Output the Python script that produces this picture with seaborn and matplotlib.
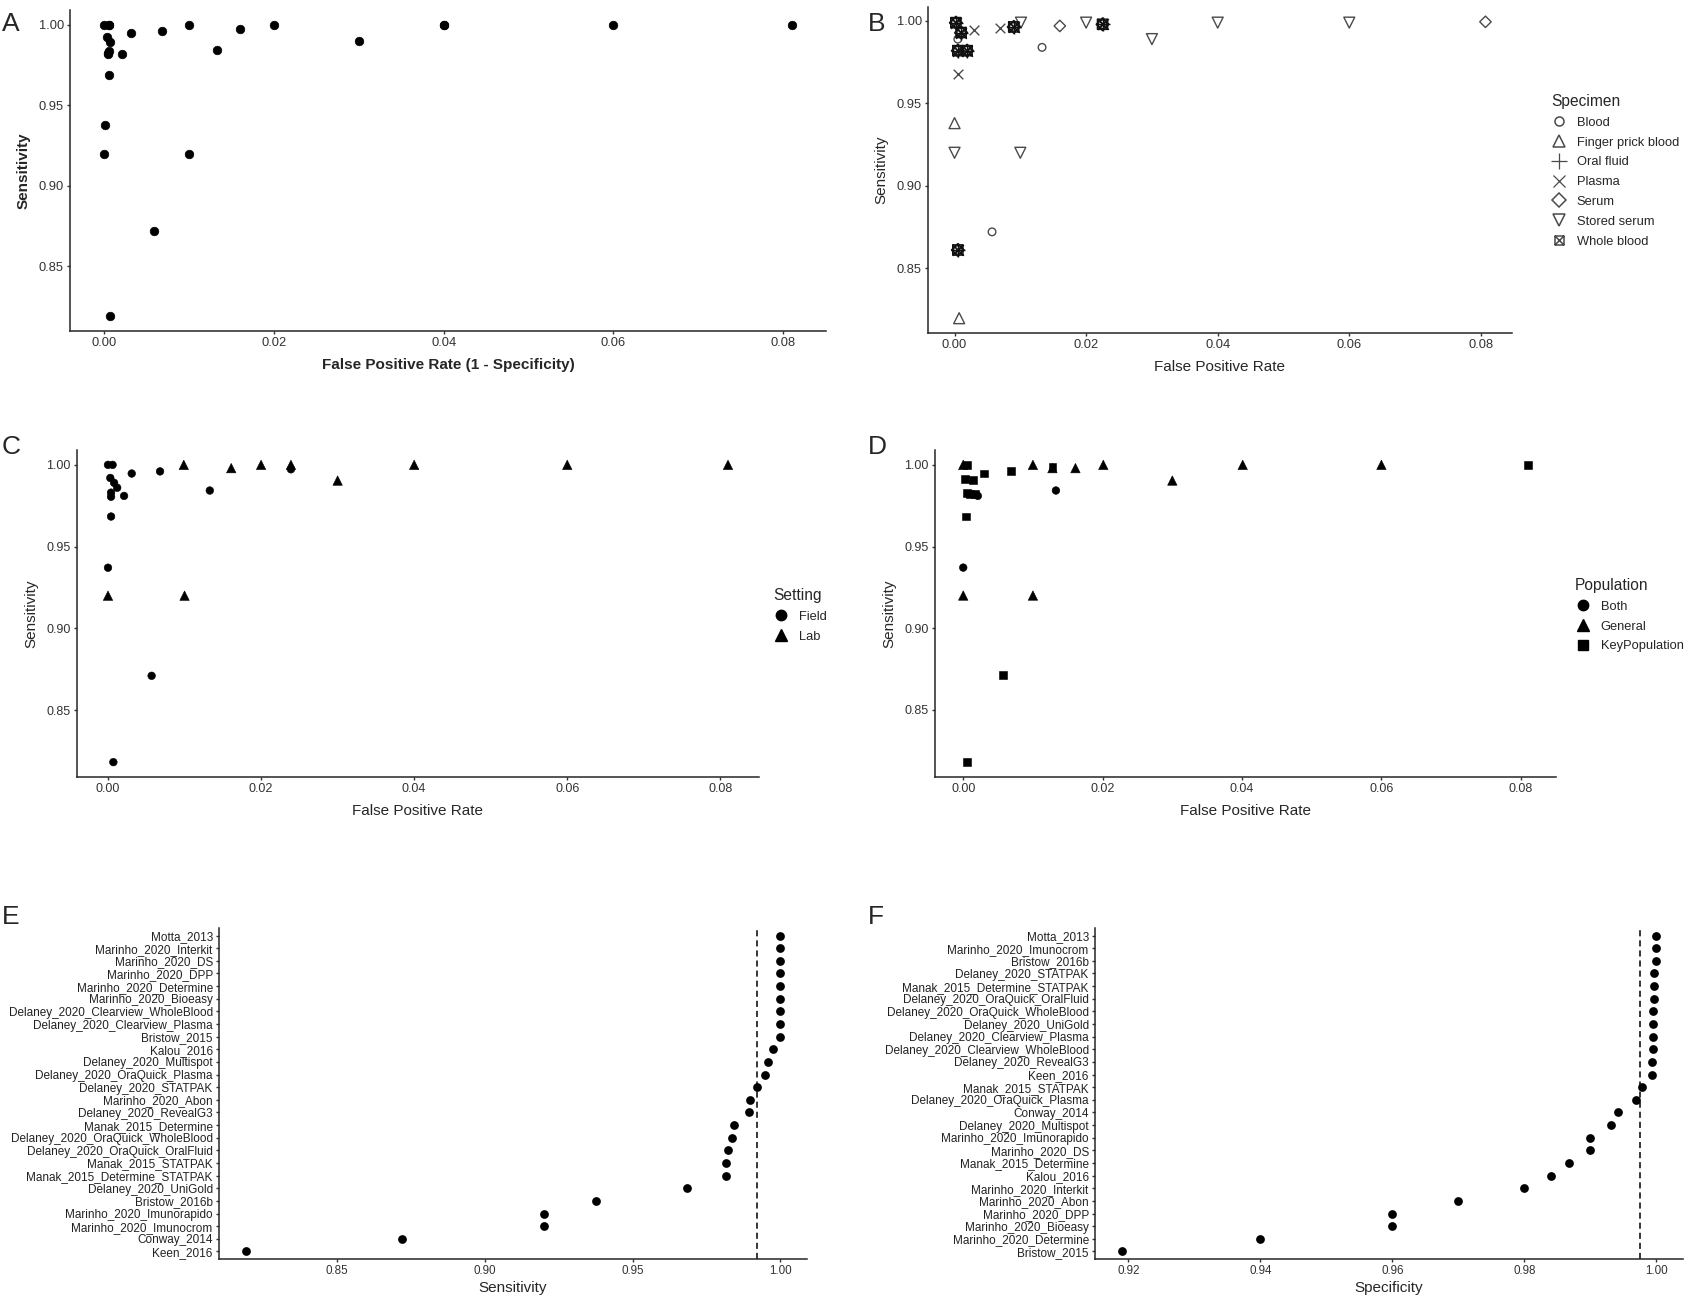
import numpy as np
import pandas as pd
import matplotlib
matplotlib.use("Agg")
import matplotlib.pyplot as plt
from matplotlib.lines import Line2D
from matplotlib.path import Path
from matplotlib.markers import MarkerStyle
import seaborn as sns

# ---------------- DATA ----------------
# Panel E: sensitivity by study (top -> bottom)
sens_studies = ["Motta_2013", "Marinho_2020_Interkit", "Marinho_2020_DS", "Marinho_2020_DPP",
                "Marinho_2020_Determine", "Marinho_2020_Bioeasy", "Delaney_2020_Clearview_WholeBlood",
                "Delaney_2020_Clearview_Plasma", "Bristow_2015", "Kalou_2016", "Delaney_2020_Multispot",
                "Delaney_2020_OraQuick_Plasma", "Delaney_2020_STATPAK", "Marinho_2020_Abon",
                "Delaney_2020_RevealG3", "Manak_2015_Determine", "Delaney_2020_OraQuick_WholeBlood",
                "Delaney_2020_OraQuick_OralFluid", "Manak_2015_STATPAK", "Manak_2015_Determine_STATPAK",
                "Delaney_2020_UniGold", "Bristow_2016b", "Marinho_2020_Imunorapido",
                "Marinho_2020_Imunocrom", "Conway_2014", "Keen_2016"]
sens_values = [1.0, 1.0, 1.0, 1.0, 1.0, 1.0, 1.0, 1.0, 1.0, 0.9975, 0.996, 0.9948, 0.992, 0.9899,
               0.9893, 0.9844, 0.9838, 0.9824, 0.9815, 0.9815, 0.9685, 0.9375, 0.920, 0.920,
               0.872, 0.819]
sens_pooled = 0.992

# Panel F: specificity by study (top -> bottom)
spec_studies = ["Motta_2013", "Marinho_2020_Imunocrom", "Bristow_2016b", "Delaney_2020_STATPAK",
                "Manak_2015_Determine_STATPAK", "Delaney_2020_OraQuick_OralFluid",
                "Delaney_2020_OraQuick_WholeBlood", "Delaney_2020_UniGold",
                "Delaney_2020_Clearview_Plasma", "Delaney_2020_Clearview_WholeBlood",
                "Delaney_2020_RevealG3", "Keen_2016", "Manak_2015_STATPAK",
                "Delaney_2020_OraQuick_Plasma", "Conway_2014", "Delaney_2020_Multispot",
                "Marinho_2020_Imunorapido", "Marinho_2020_DS", "Manak_2015_Determine", "Kalou_2016",
                "Marinho_2020_Interkit", "Marinho_2020_Abon", "Marinho_2020_DPP",
                "Marinho_2020_Bioeasy", "Marinho_2020_Determine", "Bristow_2015"]
spec_values = [1.0, 1.0, 0.9999, 0.9997, 0.9996, 0.9996, 0.9995, 0.9995, 0.9995, 0.9995, 0.9993,
               0.9993, 0.9979, 0.9969, 0.9942, 0.9932, 0.990, 0.990, 0.9867, 0.984, 0.980, 0.970,
               0.960, 0.960, 0.940, 0.919]
spec_pooled = 0.9975

# Panel B: specimen type
b_fpr = [0.0133, 0.0057, 0.0005,
         0.0, 0.0007,
         0.0030, 0.0069, 0.0005,
         0.0160, 0.0807,
         0.0101, 0.0200, 0.0300, 0.0400, 0.0600, 0.0, 0.0100]
b_sens = [0.984, 0.872, 0.989,
          0.938, 0.8196,
          0.9943, 0.996, 0.968,
          0.997, 0.9995,
          0.999, 0.999, 0.989, 0.999, 0.999, 0.920, 0.920]
b_specimen = ["Blood", "Blood", "Blood",
              "Finger prick blood", "Finger prick blood",
              "Plasma", "Plasma", "Plasma",
              "Serum", "Serum",
              "Stored serum", "Stored serum", "Stored serum", "Stored serum", "Stored serum",
              "Stored serum", "Stored serum"]
# positions where several specimen markers overlap
b_stack_fpr = [0.0002, 0.0010, 0.0005, 0.0019, 0.0090, 0.0225, 0.0005]
b_stack_sens = [0.999, 0.993, 0.982, 0.982, 0.9964, 0.998, 0.861]
b_stack_specimens = ["Whole blood", "Serum", "Blood", "Plasma", "Oral fluid"]
specimen_levels = ["Blood", "Finger prick blood", "Oral fluid", "Plasma", "Serum",
                   "Stored serum", "Whole blood"]

# Panel C: setting
c_fpr = [0.0, 0.0006, 0.0003, 0.0008, 0.0012, 0.0004, 0.0004, 0.0021, 0.0031, 0.0068, 0.0133,
         0.0239, 0.0004, 0.0, 0.0057, 0.0007,
         0.0099, 0.0161, 0.0200, 0.0239, 0.0300, 0.0400, 0.0600, 0.0810, 0.0, 0.0100]
c_sens = [1.0, 1.0, 0.992, 0.989, 0.986, 0.983, 0.9805, 0.981, 0.9947, 0.996, 0.9843,
          0.9973, 0.9684, 0.9371, 0.871, 0.8182,
          1.0, 0.998, 1.0, 1.0, 0.9904, 1.0, 1.0, 1.0, 0.920, 0.920]
c_setting = ["Field"] * 16 + ["Lab"] * 10

# Panel D: population
d_fpr = [0.0, 0.0133, 0.0021,
         0.0, 0.0100, 0.0161, 0.0201, 0.0300, 0.0401, 0.0600, 0.0, 0.0100, 0.0128,
         0.0005, 0.0002, 0.0014, 0.0005, 0.0010, 0.0017, 0.0030, 0.0068, 0.0128, 0.0004,
         0.0057, 0.0006, 0.0810]
d_sens = [0.9371, 0.9843, 0.981,
          1.0, 1.0, 0.998, 1.0, 0.9904, 1.0, 1.0, 0.920, 0.920, 0.998,
          1.0, 0.9916, 0.9906, 0.983, 0.982, 0.982, 0.9947, 0.996, 0.9987, 0.9684,
          0.8712, 0.818, 1.0]
d_population = ["Both"] * 3 + ["General"] * 10 + ["KeyPopulation"] * 13

# ---------------- STYLE ----------------
sns.set_theme(style="ticks")
plt.rcParams["font.family"] = ["Liberation Sans", "DejaVu Sans"]
plt.rcParams["axes.linewidth"] = 1.1
plt.rcParams["xtick.major.width"] = 1.0
plt.rcParams["ytick.major.width"] = 1.0
plt.rcParams["xtick.major.size"] = 2.5
plt.rcParams["ytick.major.size"] = 2.5
plt.rcParams["xtick.color"] = "#333333"
plt.rcParams["ytick.color"] = "#333333"
plt.rcParams["xtick.labelcolor"] = "#333333"
plt.rcParams["ytick.labelcolor"] = "#333333"

W, H = 1688, 1296
fig = plt.figure(figsize=(W / 100, H / 100), dpi=100)


def rect(l, t, r, b):
    return [l / W, 1 - b / H, (r - l) / W, (b - t) / H]


def expand(vals, f=0.05):
    lo, hi = min(vals), max(vals)
    r = hi - lo
    return lo - f * r, hi + f * r


def style_ax(ax, tick_fs):
    sns.despine(ax=ax)
    ax.tick_params(labelsize=tick_fs, pad=2)
    ax.grid(False)


def fmt2(ax, axis="both"):
    f = matplotlib.ticker.FormatStrFormatter("%.2f")
    if axis in ("both", "x"):
        ax.xaxis.set_major_formatter(f)
    if axis in ("both", "y"):
        ax.yaxis.set_major_formatter(f)


def letter(px, py, s):
    fig.text(px / W, 1 - py / H, s, fontsize=19, ha="left", va="center")


def legend_at(ax, handles, labels, title, px, py):
    return ax.legend(handles, labels, title=title, loc="upper left",
                     bbox_to_anchor=(px / W, 1 - py / H), bbox_transform=fig.transFigure,
                     frameon=False, fontsize=9.3, title_fontsize=11.2, borderpad=0,
                     borderaxespad=0, labelspacing=0.6, handlelength=1.2, handletextpad=0.8,
                     alignment="left")


xt = [0.0, 0.02, 0.04, 0.06, 0.08]
yt = [0.85, 0.90, 0.95, 1.00]

# ---------------- PANEL A ----------------
spec_map = dict(zip(spec_studies, spec_values))
dfA = pd.DataFrame({"study": sens_studies, "sens": sens_values})
dfA["fpr"] = [1 - spec_map[s] for s in dfA["study"]]
axA = fig.add_axes(rect(70, 10, 826, 331))
sns.scatterplot(data=dfA, x="fpr", y="sens", color="black", edgecolor="black", s=38, ax=axA,
                linewidth=0.5)
axA.set_xlim(*expand(dfA["fpr"]))
axA.set_ylim(*expand(dfA["sens"]))
axA.set_xticks(xt)
axA.set_yticks(yt)
fmt2(axA)
style_ax(axA, 9.3)
axA.set_xlabel("False Positive Rate (1 - Specificity)", fontsize=11, fontweight="bold", labelpad=6)
axA.set_ylabel("Sensitivity", fontsize=11, fontweight="bold", labelpad=6)
letter(2, 24, "A")

# ---------------- PANEL B ----------------
rowsB = pd.DataFrame({"fpr": b_fpr, "sens": b_sens, "specimen": b_specimen})
stack = pd.DataFrame([(f, s, sp) for f, s in zip(b_stack_fpr, b_stack_sens)
                      for sp in b_stack_specimens], columns=["fpr", "sens", "specimen"])
dfB = pd.concat([rowsB, stack], ignore_index=True)

wb_path = Path([(-1, -1), (1, -1), (1, 1), (-1, 1), (-1, -1), (-1, -1), (1, 1), (-1, 1), (1, -1)],
               [Path.MOVETO, Path.LINETO, Path.LINETO, Path.LINETO, Path.CLOSEPOLY,
                Path.MOVETO, Path.LINETO, Path.MOVETO, Path.LINETO])
spec_marker = {"Blood": ("o", 30), "Finger prick blood": ("^", 62), "Oral fluid": ("+", 80),
               "Plasma": ("x", 48), "Serum": ("D", 34), "Stored serum": ("v", 62),
               "Whole blood": (MarkerStyle(wb_path), 44)}
gcol = "#4a4a4a"
axB = fig.add_axes(rect(928, 7, 1512, 333))
for frame, col, scale in ((rowsB, gcol, 1.0), (stack, "#111111", 1.25)):
    for lev in specimen_levels:
        sub = frame[frame["specimen"] == lev]
        if sub.empty:
            continue
        m, sz = spec_marker[lev]
        if m in ("+", "x"):
            sns.scatterplot(data=sub, x="fpr", y="sens", marker=m, s=sz * scale, color=col,
                            linewidth=1.0, ax=axB)
        else:
            sns.scatterplot(data=sub, x="fpr", y="sens", marker=m, s=sz * scale, color=col,
                            facecolor="none", edgecolor=col, linewidth=1.0, ax=axB)
axB.set_xlim(*expand(dfB["fpr"]))
axB.set_ylim(*expand(dfB["sens"]))
axB.set_xticks(xt)
axB.set_yticks(yt)
fmt2(axB)
style_ax(axB, 9.3)
axB.set_xlabel("False Positive Rate", fontsize=11, labelpad=6)
axB.set_ylabel("Sensitivity", fontsize=11, labelpad=6)
letter(868, 24, "B")

handlesB = []
leg_ms = {"Blood": 6.5, "Finger prick blood": 9, "Oral fluid": 11, "Plasma": 8.5,
          "Serum": 7, "Stored serum": 9, "Whole blood": 6.5}
for lev in specimen_levels:
    m, _ = spec_marker[lev]
    if m in ("+", "x"):
        h = Line2D([], [], marker=m, linestyle="none", color=gcol, markersize=leg_ms[lev],
                   markeredgewidth=0.9)
    else:
        h = Line2D([], [], marker=m, linestyle="none", markerfacecolor="none",
                   markeredgecolor=gcol, markersize=leg_ms[lev], markeredgewidth=1.1)
    handlesB.append(h)
legend_at(axB, handlesB, specimen_levels, "Specimen", 1551, 94)

# ---------------- PANEL C ----------------
dfC = pd.DataFrame({"fpr": c_fpr, "sens": c_sens, "Setting": c_setting})
axC = fig.add_axes(rect(77, 450, 759, 777))
sns.scatterplot(data=dfC, x="fpr", y="sens", style="Setting", markers={"Field": "o", "Lab": "^"},
                size="Setting", sizes={"Field": 30, "Lab": 46}, color="black", edgecolor="black",
                linewidth=0.4, ax=axC, legend=False)
axC.set_xlim(*expand(dfC["fpr"]))
axC.set_ylim(*expand(dfC["sens"]))
axC.set_xticks(xt)
axC.set_yticks(yt)
fmt2(axC)
style_ax(axC, 9)
axC.set_xlabel("False Positive Rate", fontsize=11, labelpad=6)
axC.set_ylabel("Sensitivity", fontsize=11, labelpad=6)
letter(2, 447, "C")
hC = [Line2D([], [], marker="o", linestyle="none", color="black", markersize=7.5),
      Line2D([], [], marker="^", linestyle="none", color="black", markersize=8.5)]
legend_at(axC, hC, ["Field", "Lab"], "Setting", 773, 588)

# ---------------- PANEL D ----------------
dfD = pd.DataFrame({"fpr": d_fpr, "sens": d_sens, "Population": d_population})
axD = fig.add_axes(rect(935, 450, 1556, 777))
sns.scatterplot(data=dfD, x="fpr", y="sens", style="Population",
                markers={"Both": "o", "General": "^", "KeyPopulation": "s"},
                size="Population", sizes={"Both": 30, "General": 46, "KeyPopulation": 32},
                color="black", edgecolor="black", linewidth=0.4, ax=axD, legend=False)
axD.set_xlim(*expand(dfD["fpr"]))
axD.set_ylim(*expand(dfD["sens"]))
axD.set_xticks(xt)
axD.set_yticks(yt)
fmt2(axD)
style_ax(axD, 9)
axD.set_xlabel("False Positive Rate", fontsize=11, labelpad=6)
axD.set_ylabel("Sensitivity", fontsize=11, labelpad=6)
letter(868, 447, "D")
hD = [Line2D([], [], marker="o", linestyle="none", color="black", markersize=7.5),
      Line2D([], [], marker="^", linestyle="none", color="black", markersize=8.5),
      Line2D([], [], marker="s", linestyle="none", color="black", markersize=7)]
legend_at(axD, hD, ["Both", "General", "KeyPopulation"], "Population", 1575, 578)

# ---------------- PANEL E ----------------
axE = fig.add_axes(rect(219, 928, 807, 1259))
sns.stripplot(x=sens_values, y=sens_studies, order=sens_studies, orient="h", jitter=False,
              color="black", size=6.3, ax=axE)
axE.axvline(sens_pooled, color="black", lw=1.1, ls=(0, (4, 2.6)))
axE.set_xlim(*expand(sens_values))
axE.set_ylim(len(sens_studies) - 1 + 0.6, -0.6)
axE.set_xticks(yt)
fmt2(axE, "x")
style_ax(axE, 8.4)
axE.tick_params(axis="y", labelsize=8.5, labelcolor="#222222")
axE.set_xlabel("Sensitivity", fontsize=11, labelpad=3)
axE.set_ylabel("")
letter(2, 917, "E")

# ---------------- PANEL F ----------------
axF = fig.add_axes(rect(1095, 928, 1683, 1259))
sns.stripplot(x=spec_values, y=spec_studies, order=spec_studies, orient="h", jitter=False,
              color="black", size=6.3, ax=axF)
axF.axvline(spec_pooled, color="black", lw=1.1, ls=(0, (4, 2.6)))
axF.set_xlim(*expand(spec_values))
axF.set_ylim(len(spec_studies) - 1 + 0.6, -0.6)
axF.set_xticks([0.92, 0.94, 0.96, 0.98, 1.00])
fmt2(axF, "x")
style_ax(axF, 8.4)
axF.tick_params(axis="y", labelsize=8.5, labelcolor="#222222")
axF.set_xlabel("Specificity", fontsize=11, labelpad=3)
axF.set_ylabel("")
letter(868, 917, "F")

fig.savefig("out.png", dpi=100)
